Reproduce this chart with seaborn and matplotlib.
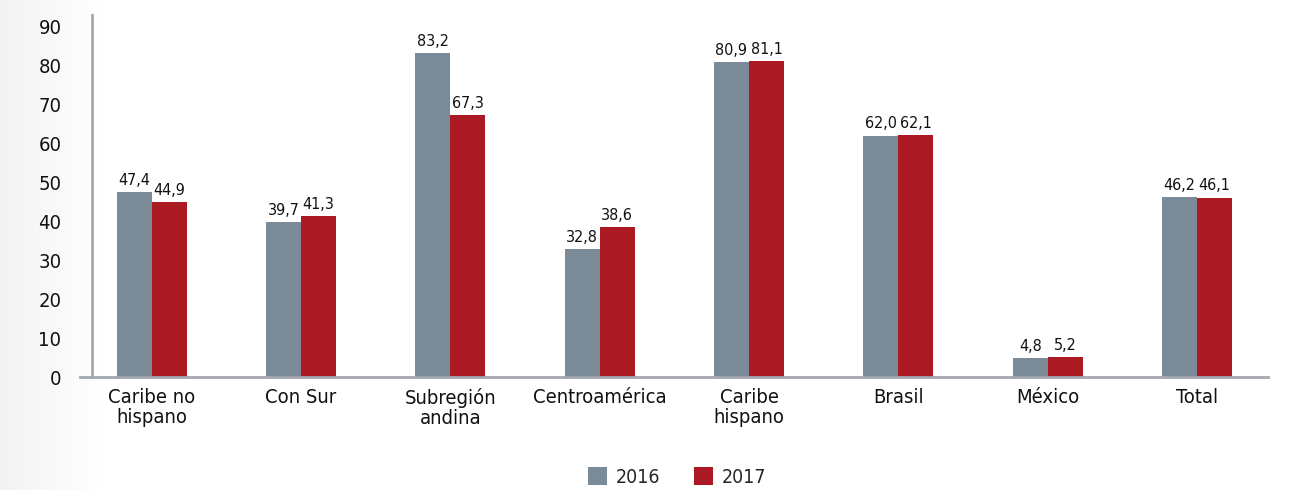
import numpy as np
import pandas as pd
import matplotlib
matplotlib.use("Agg")
import matplotlib.pyplot as plt
import seaborn as sns

categories = ["Caribe no\nhispano", "Con Sur", "Subregión\nandina", "Centroamérica",
              "Caribe\nhispano", "Brasil", "México", "Total"]
values_2016 = [47.4, 39.7, 83.2, 32.8, 80.9, 62.0, 4.8, 46.2]
values_2017 = [44.9, 41.3, 67.3, 38.6, 81.1, 62.1, 5.2, 46.1]
years = ["2016", "2017"]
colors = ["#7a8b97", "#ab1a22"]

df = pd.DataFrame({
    "region": categories * 2,
    "year": [years[0]] * len(categories) + [years[1]] * len(categories),
    "value": values_2016 + values_2017,
})

sns.set_style("white")
plt.rcParams["font.family"] = ["DejaVu Sans"]
plt.rcParams["font.stretch"] = "condensed"

fig = plt.figure(figsize=(12.91, 4.9), dpi=100)

# light gray gradient on the left edge
bg = fig.add_axes([0, 0, 0.08, 1], zorder=-10)
grad = np.linspace(0, 1, 100).reshape(1, -1)
bg.imshow(grad, aspect="auto", cmap=matplotlib.colors.LinearSegmentedColormap.from_list(
    "g", ["#f3f3f3", "#ffffff"]), extent=[0, 1, 0, 1])
bg.axis("off")

ax = fig.add_axes([80 / 1291, 113 / 490, (1268 - 80) / 1291, (475 - 113) / 490])
ax.patch.set_alpha(0)

sns.barplot(data=df, x="region", y="value", hue="year", order=categories,
            hue_order=years, palette=colors, width=0.47, saturation=1,
            linewidth=0, ax=ax)

for cont in ax.containers:
    ax.bar_label(cont, labels=[f"{v:.1f}".replace(".", ",") for v in cont.datavalues],
                 padding=3, fontsize=11.5, color="#111111")

ax.set_xlim(-0.48, 7.475)
ax.set_ylim(0, 93)
ax.set_yticks(range(0, 91, 10))
ax.tick_params(axis="both", length=0, labelsize=14.5, colors="#111111")
ax.tick_params(axis="x", pad=8)
ax.tick_params(axis="y", pad=22)
for lbl in ax.get_xticklabels():
    lbl.set_linespacing(1.05)

ax.set_xlabel("")
ax.set_ylabel("")
sns.despine(ax=ax, top=True, right=True)
ax.spines["left"].set_position(("data", -0.4))
for s in ["left", "bottom"]:
    ax.spines[s].set_color("#a3a7b0")
    ax.spines[s].set_linewidth(2)

ax.legend(loc="center", bbox_to_anchor=(677 / 1291, 13 / 490),
          bbox_transform=fig.transFigure, ncol=2, frameon=False,
          fontsize=14, handlelength=1.0, handleheight=1.0,
          columnspacing=1.7, handletextpad=0.45)

fig.savefig("out.png", dpi=100)
